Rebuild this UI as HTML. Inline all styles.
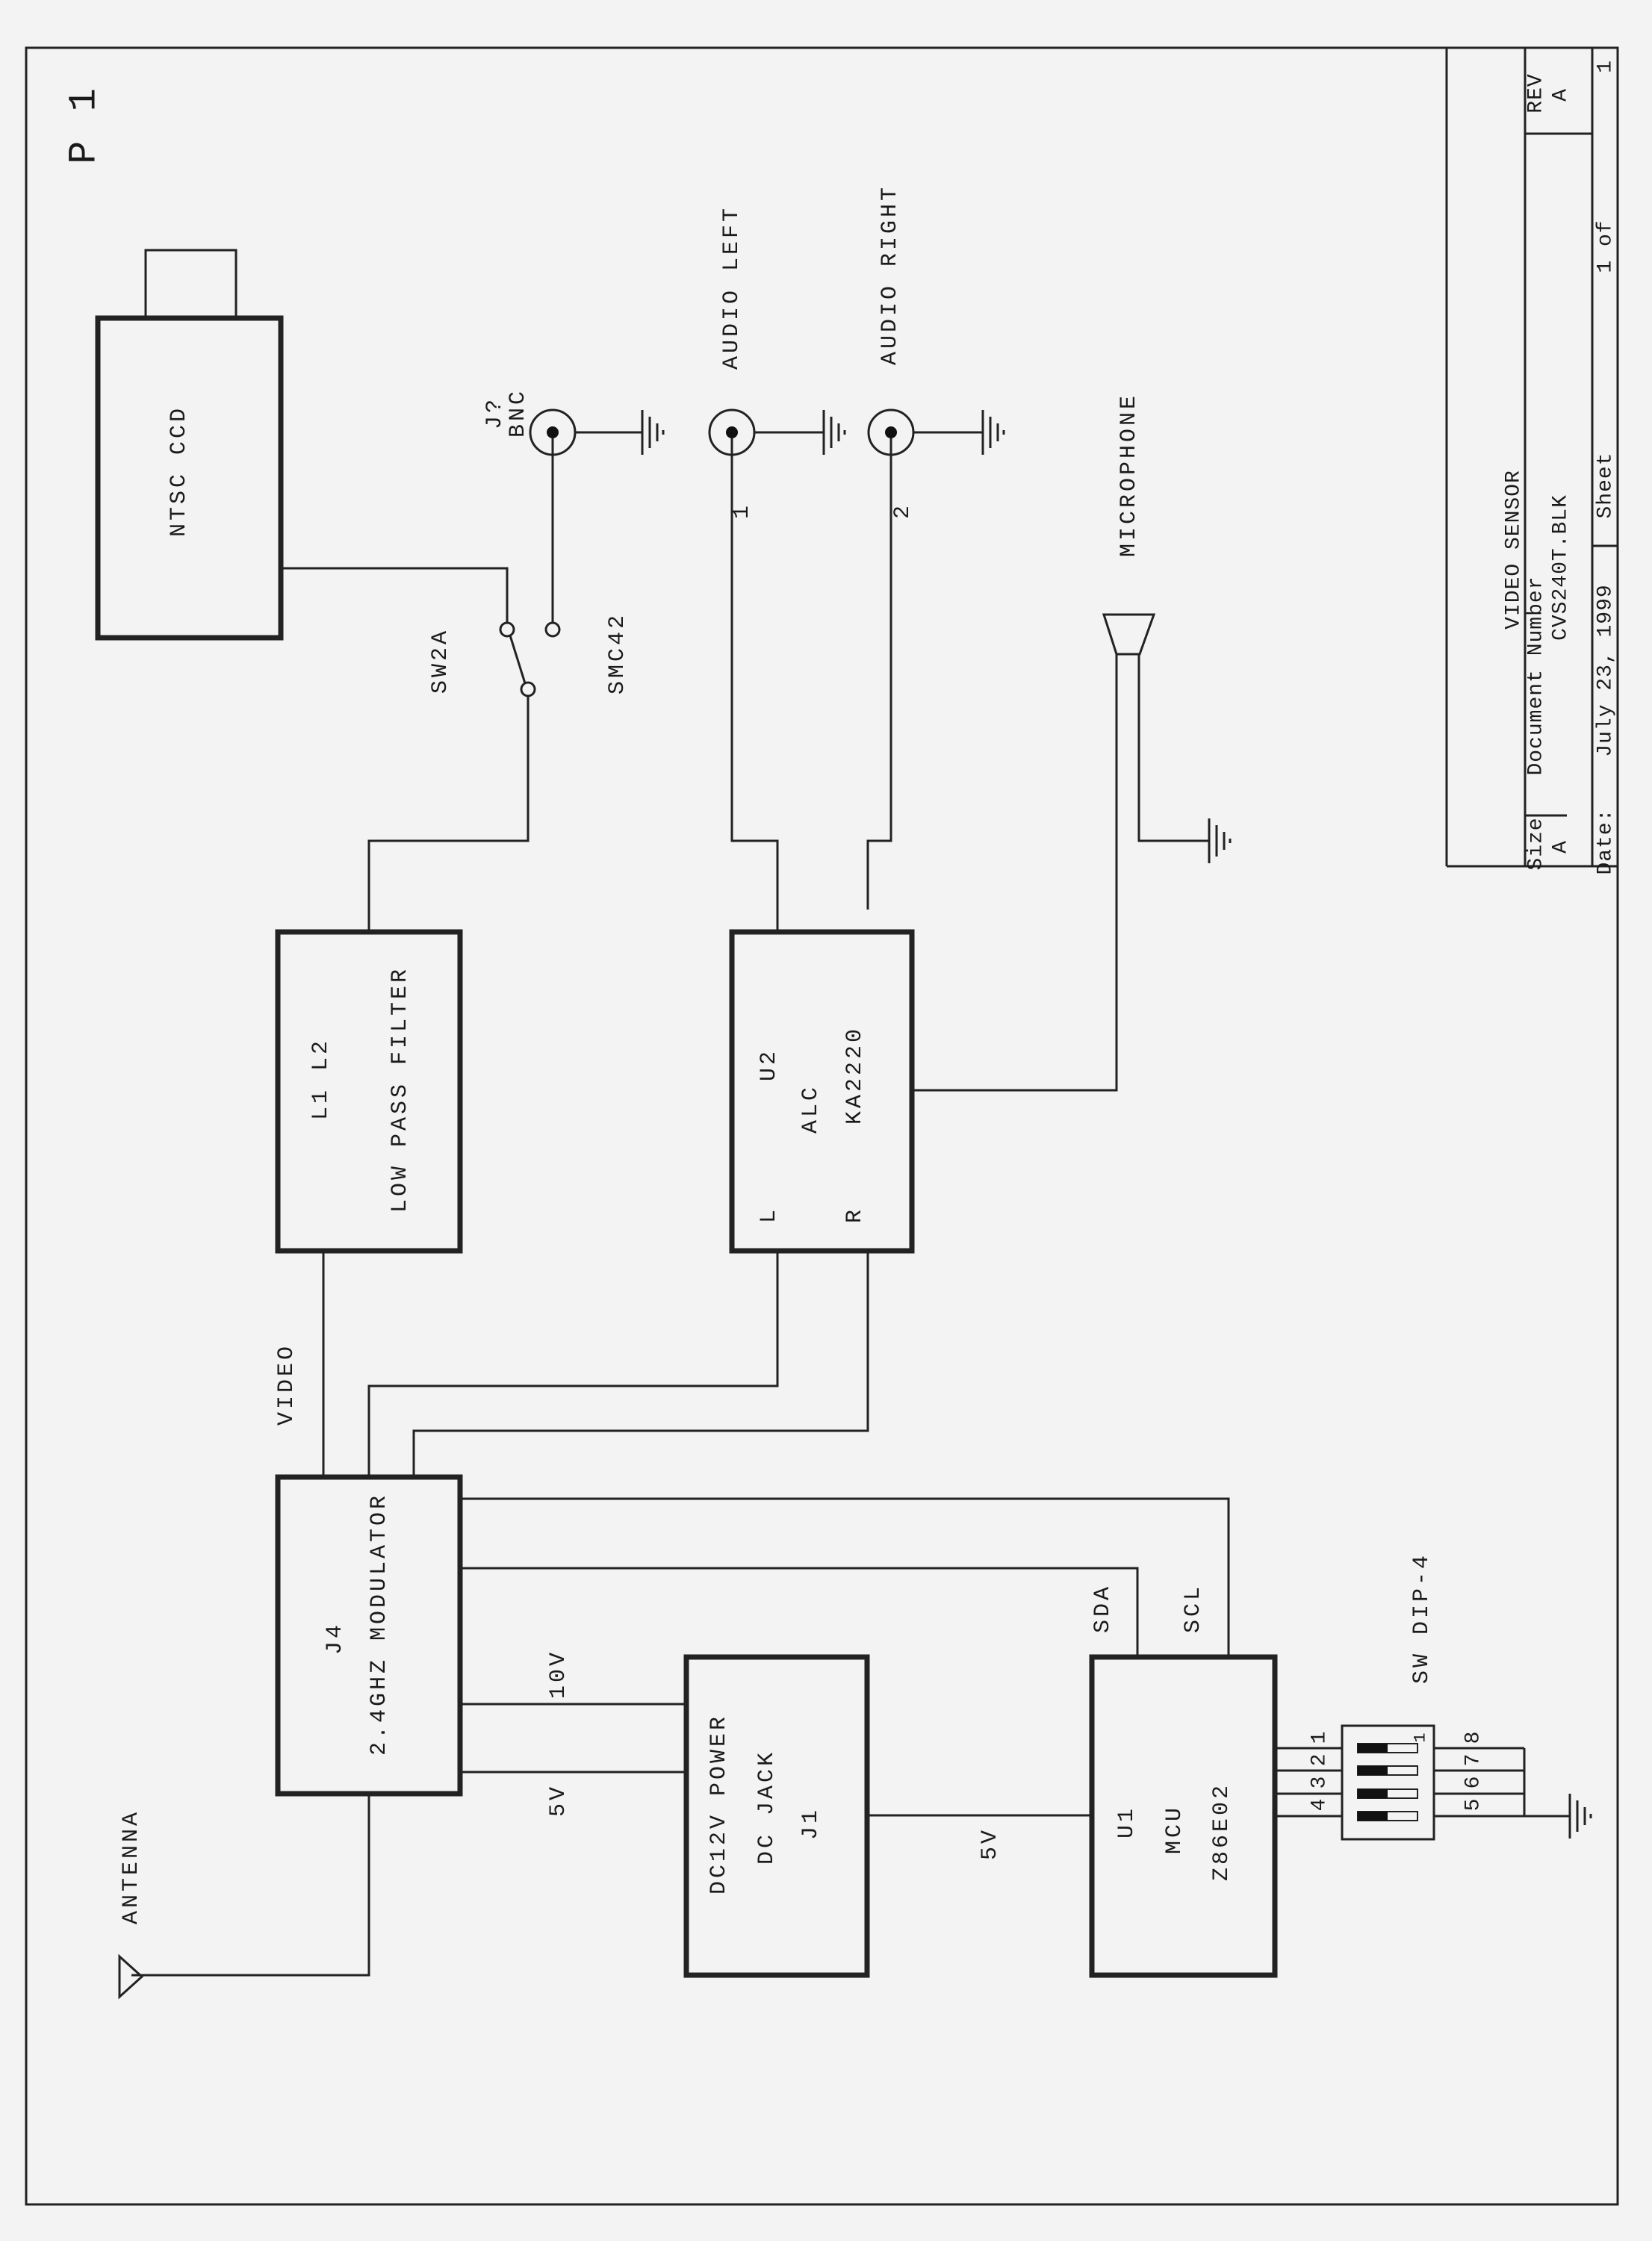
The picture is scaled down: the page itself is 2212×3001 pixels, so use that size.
<!DOCTYPE html>
<html><head><meta charset="utf-8"><style>
html,body{margin:0;padding:0;background:#f3f3f3;}
svg{display:block;}
text{font-family:"Liberation Mono","DejaVu Sans Mono",monospace;fill:#1a1a1a;}
</style></head><body>
<svg width="2212" height="3001" viewBox="0 0 2212 3001" xmlns="http://www.w3.org/2000/svg">
<defs>
<g id="gnd" stroke="#222" stroke-width="3" fill="none">
<line x1="0" y1="-30" x2="0" y2="30"/>
<line x1="10" y1="-21" x2="10" y2="21"/>
<line x1="20" y1="-12" x2="20" y2="12"/>
<line x1="28" y1="-3" x2="28" y2="3"/>
</g>
</defs>
<rect x="0" y="0" width="2212" height="3001" fill="#f3f3f3"/>
<g stroke="#222" fill="none">
<!-- border -->
<rect x="35" y="64" width="2131" height="2888" stroke-width="3"/>
<!-- title block -->
<g stroke-width="3">
<line x1="1937" y1="64" x2="1937" y2="1160"/>
<line x1="1937" y1="1160" x2="2166" y2="1160"/>
<line x1="2042" y1="64" x2="2042" y2="1160"/>
<line x1="2132" y1="64" x2="2132" y2="1160"/>
<line x1="2042" y1="179" x2="2132" y2="179"/>
<line x1="2042" y1="1092" x2="2098" y2="1092"/>
<line x1="2132" y1="731" x2="2166" y2="731"/>
</g>
<!-- boxes -->
<g stroke-width="7">
<rect x="131" y="426" width="245" height="428"/>
<rect x="372" y="1248" width="244" height="427"/>
<rect x="980" y="1248" width="241" height="427"/>
<rect x="372" y="1978" width="244" height="424"/>
<rect x="919" y="2219" width="242" height="426"/>
<rect x="1462" y="2219" width="245" height="426"/>
</g>
<rect x="195" y="335" width="121" height="91" stroke-width="3"/>
<!-- wires -->
<g stroke-width="3">
<polyline points="376,761 679,761 679,834"/>
<line x1="683" y1="851" x2="703" y2="915"/>
<polyline points="707,932 707,1126 494,1126 494,1248"/>
<line x1="740" y1="587" x2="740" y2="834"/>
<line x1="770" y1="579" x2="860" y2="579"/>
<polyline points="980,587 980,1126 1041,1126 1041,1248"/>
<line x1="1011" y1="579" x2="1103" y2="579"/>
<polyline points="1193,587 1193,1126 1162,1126 1162,1218"/>
<line x1="1224" y1="579" x2="1316" y2="579"/>
<polyline points="1221,1460 1495,1460 1495,876"/>
<polyline points="1525,876 1525,1126 1619,1126"/>
<polygon points="1478,823 1545,823 1526,876 1495,876"/>
<line x1="433" y1="1675" x2="433" y2="1978"/>
<polyline points="1041,1675 1041,1856 494,1856 494,1978"/>
<polyline points="1162,1675 1162,1916 554,1916 554,1978"/>
<polyline points="616,2007 1645,2007 1645,2219"/>
<polyline points="616,2100 1523,2100 1523,2219"/>
<line x1="616" y1="2282" x2="919" y2="2282"/>
<line x1="616" y1="2373" x2="919" y2="2373"/>
<line x1="1161" y1="2431" x2="1462" y2="2431"/>
<polyline points="494,2402 494,2645 176,2645"/>
<polygon points="160,2620 160,2674 190,2647"/>
<!-- dip -->
<line x1="1707" y1="2341" x2="1797" y2="2341"/>
<line x1="1707" y1="2371" x2="1797" y2="2371"/>
<line x1="1707" y1="2402" x2="1797" y2="2402"/>
<line x1="1707" y1="2432" x2="1797" y2="2432"/>
<line x1="1920" y1="2341" x2="2041" y2="2341"/>
<line x1="1920" y1="2371" x2="2041" y2="2371"/>
<line x1="1920" y1="2402" x2="2041" y2="2402"/>
<line x1="1920" y1="2432" x2="2102" y2="2432"/>
<line x1="2041" y1="2341" x2="2041" y2="2432"/>
<rect x="1797" y="2311" width="123" height="152"/>
</g>
<!-- switch circles -->
<g stroke-width="3" fill="#f3f3f3">
<circle cx="679" cy="843" r="9"/>
<circle cx="740" cy="843" r="9"/>
<circle cx="707" cy="923" r="9"/>
</g>
<!-- jacks -->
<g stroke-width="3">
<circle cx="740" cy="579" r="30"/>
<circle cx="980" cy="579" r="30"/>
<circle cx="1193" cy="579" r="30"/>
</g>
</g>
<g fill="#111">
<circle cx="740" cy="579" r="8"/>
<circle cx="980" cy="579" r="8"/>
<circle cx="1193" cy="579" r="8"/>
</g>
<!-- dip sliders -->
<g stroke="#222" stroke-width="2">
<rect x="1818" y="2335" width="80" height="12" fill="#f3f3f3"/>
<rect x="1818" y="2365" width="80" height="12" fill="#f3f3f3"/>
<rect x="1818" y="2396" width="80" height="12" fill="#f3f3f3"/>
<rect x="1818" y="2426" width="80" height="12" fill="#f3f3f3"/>
</g>
<g fill="#111">
<rect x="1818" y="2335" width="40" height="12"/>
<rect x="1818" y="2365" width="40" height="12"/>
<rect x="1818" y="2396" width="40" height="12"/>
<rect x="1818" y="2426" width="40" height="12"/>
</g>
<use href="#gnd" x="860" y="579"/>
<use href="#gnd" x="1103" y="579"/>
<use href="#gnd" x="1316" y="579"/>
<use href="#gnd" x="1619" y="1126"/>
<use href="#gnd" x="2102" y="2432"/>

<!-- text (rotated -90) -->
<g font-size="30" letter-spacing="4" text-anchor="middle" dominant-baseline="central">
<text x="113" y="167" font-size="52" transform="rotate(-90 113 167)">P 1</text>
<text x="240" y="631" transform="rotate(-90 240 631)">NTSC CCD</text>
<text x="663" y="553" transform="rotate(-90 663 553)">J?</text>
<text x="694" y="553" transform="rotate(-90 694 553)">BNC</text>
<text x="980" y="385" transform="rotate(-90 980 385)">AUDIO LEFT</text>
<text x="1192" y="368" transform="rotate(-90 1192 368)">AUDIO RIGHT</text>
<text x="994" y="684" transform="rotate(-90 994 684)">1</text>
<text x="1209" y="684" transform="rotate(-90 1209 684)">2</text>
<text x="1512" y="636" transform="rotate(-90 1512 636)">MICROPHONE</text>
<text x="590" y="885" transform="rotate(-90 590 885)">SW2A</text>
<text x="827" y="875" transform="rotate(-90 827 875)">SMC42</text>
<text x="430" y="1445" transform="rotate(-90 430 1445)">L1  L2</text>
<text x="536" y="1459" transform="rotate(-90 536 1459)">LOW PASS FILTER</text>
<text x="1030" y="1426" transform="rotate(-90 1030 1426)">U2</text>
<text x="1086" y="1485" transform="rotate(-90 1086 1485)">ALC</text>
<text x="1145" y="1440" transform="rotate(-90 1145 1440)">KA2220</text>
<text x="1030" y="1627" transform="rotate(-90 1030 1627)">L</text>
<text x="1145" y="1627" transform="rotate(-90 1145 1627)">R</text>
<text x="384" y="1854" transform="rotate(-90 384 1854)">VIDEO</text>
<text x="449" y="2194" transform="rotate(-90 449 2194)">J4</text>
<text x="508" y="2175" transform="rotate(-90 508 2175)">2.4GHZ MODULATOR</text>
<text x="748" y="2242" transform="rotate(-90 748 2242)">10V</text>
<text x="748" y="2411" transform="rotate(-90 748 2411)">5V</text>
<text x="963" y="2416" transform="rotate(-90 963 2416)">DC12V POWER</text>
<text x="1027" y="2420" transform="rotate(-90 1027 2420)">DC JACK</text>
<text x="1086" y="2442" transform="rotate(-90 1086 2442)">J1</text>
<text x="1326" y="2469" transform="rotate(-90 1326 2469)">5V</text>
<text x="1477" y="2154" transform="rotate(-90 1477 2154)">SDA</text>
<text x="1598" y="2154" transform="rotate(-90 1598 2154)">SCL</text>
<text x="1509" y="2440" transform="rotate(-90 1509 2440)">U1</text>
<text x="1573" y="2450" transform="rotate(-90 1573 2450)">MCU</text>
<text x="1636" y="2453" transform="rotate(-90 1636 2453)">Z86E02</text>
<text x="1904" y="2167" transform="rotate(-90 1904 2167)">SW DIP-4</text>
<text x="176" y="2500" transform="rotate(-90 176 2500)">ANTENNA</text>
</g>
<g font-size="28" text-anchor="middle" dominant-baseline="central">
<text x="1767" y="2327" transform="rotate(-90 1767 2327)">1</text>
<text x="1767" y="2357" transform="rotate(-90 1767 2357)">2</text>
<text x="1767" y="2387" transform="rotate(-90 1767 2387)">3</text>
<text x="1767" y="2417" transform="rotate(-90 1767 2417)">4</text>
<text x="1973" y="2327" transform="rotate(-90 1973 2327)">8</text>
<text x="1973" y="2357" transform="rotate(-90 1973 2357)">7</text>
<text x="1973" y="2387" transform="rotate(-90 1973 2387)">6</text>
<text x="1973" y="2417" transform="rotate(-90 1973 2417)">5</text>
<text x="1902" y="2327" font-size="22" transform="rotate(-90 1902 2327)">1</text>
</g>
<!-- title block text -->
<g font-size="28" letter-spacing="1" text-anchor="middle" dominant-baseline="central">
<text x="2027" y="736" transform="rotate(-90 2027 736)">VIDEO SENSOR</text>
<text x="2057" y="1130" transform="rotate(-90 2057 1130)">Size</text>
<text x="2057" y="905" transform="rotate(-90 2057 905)">Document Number</text>
<text x="2057" y="125" transform="rotate(-90 2057 125)">REV</text>
<text x="2090" y="1134" transform="rotate(-90 2090 1134)">A</text>
<text x="2090" y="760" transform="rotate(-90 2090 760)">CVS240T.BLK</text>
<text x="2090" y="127" transform="rotate(-90 2090 127)">A</text>
<text x="2150" y="1127" transform="rotate(-90 2150 1127)">Date:</text>
<text x="2150" y="898" transform="rotate(-90 2150 898)">July 23, 1999</text>
<text x="2150" y="650" transform="rotate(-90 2150 650)">Sheet</text>
<text x="2150" y="330" transform="rotate(-90 2150 330)">1 of</text>
<text x="2150" y="89" transform="rotate(-90 2150 89)">1</text>
</g>
</svg>
</body></html>
